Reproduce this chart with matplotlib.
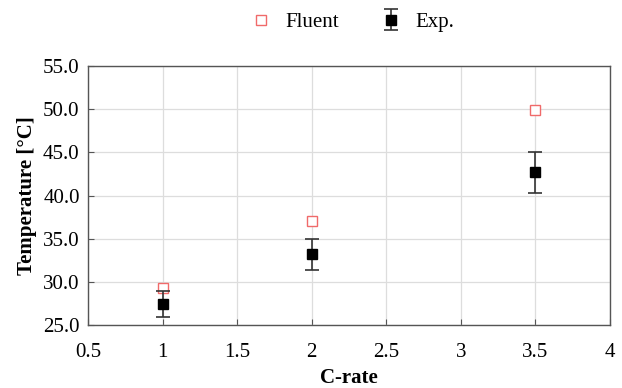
import matplotlib.pyplot as plt
import numpy as np

plt.rcParams['font.family'] = ['Liberation Serif', 'DejaVu Serif']

c_rate = [1, 2, 3.5]
fluent = [29.3, 37.0, 49.9]
exp_mean = [27.5, 33.2, 42.7]
exp_err = [1.5, 1.8, 2.35]

xticks = [0.5, 1, 1.5, 2, 2.5, 3, 3.5, 4]
xticklabels = ['0.5', '1', '1.5', '2', '2.5', '3', '3.5', '4']
yticks = [25, 30, 35, 40, 45, 50, 55]

fig = plt.figure(figsize=(6.22, 3.88), dpi=100)
ax = fig.add_axes([0.1415, 0.162, 0.839, 0.668])

ax.plot(c_rate, fluent, linestyle='none', marker='s', markersize=7,
        markerfacecolor='white', markeredgecolor='#f06a6a', markeredgewidth=1.0,
        label='Fluent')
ax.errorbar(c_rate, exp_mean, yerr=exp_err, fmt='s', color='black',
            ecolor='#333333', elinewidth=1.2, capsize=5, capthick=1.2,
            markersize=7, label='Exp.')

ax.set_xlim(0.5, 4)
ax.set_ylim(25, 55)
ax.set_xticks(xticks)
ax.set_xticklabels(xticklabels)
ax.set_yticks(yticks)
ax.set_yticklabels([f'{v:.1f}' for v in yticks])
ax.grid(True, color='#dddddd', linewidth=0.9)
ax.set_axisbelow(True)
ax.tick_params(direction='in', length=4, labelsize=15, color='#555555', pad=6)
ax.tick_params(axis='x', pad=13)

for s in ax.spines.values():
    s.set_color('#555555')
    s.set_linewidth(1.0)

ax.set_xlabel('C-rate', fontsize=15, fontweight='bold', labelpad=4)
ax.set_ylabel('Temperature [°C]', fontsize=15, fontweight='bold', labelpad=4)

fig.legend(*ax.get_legend_handles_labels(), loc='center',
           bbox_to_anchor=(0.565, 0.943), ncol=2, frameon=False,
           fontsize=15, handlelength=1.2, handletextpad=0.55, columnspacing=1.9)

fig.savefig('out.png', dpi=100)
